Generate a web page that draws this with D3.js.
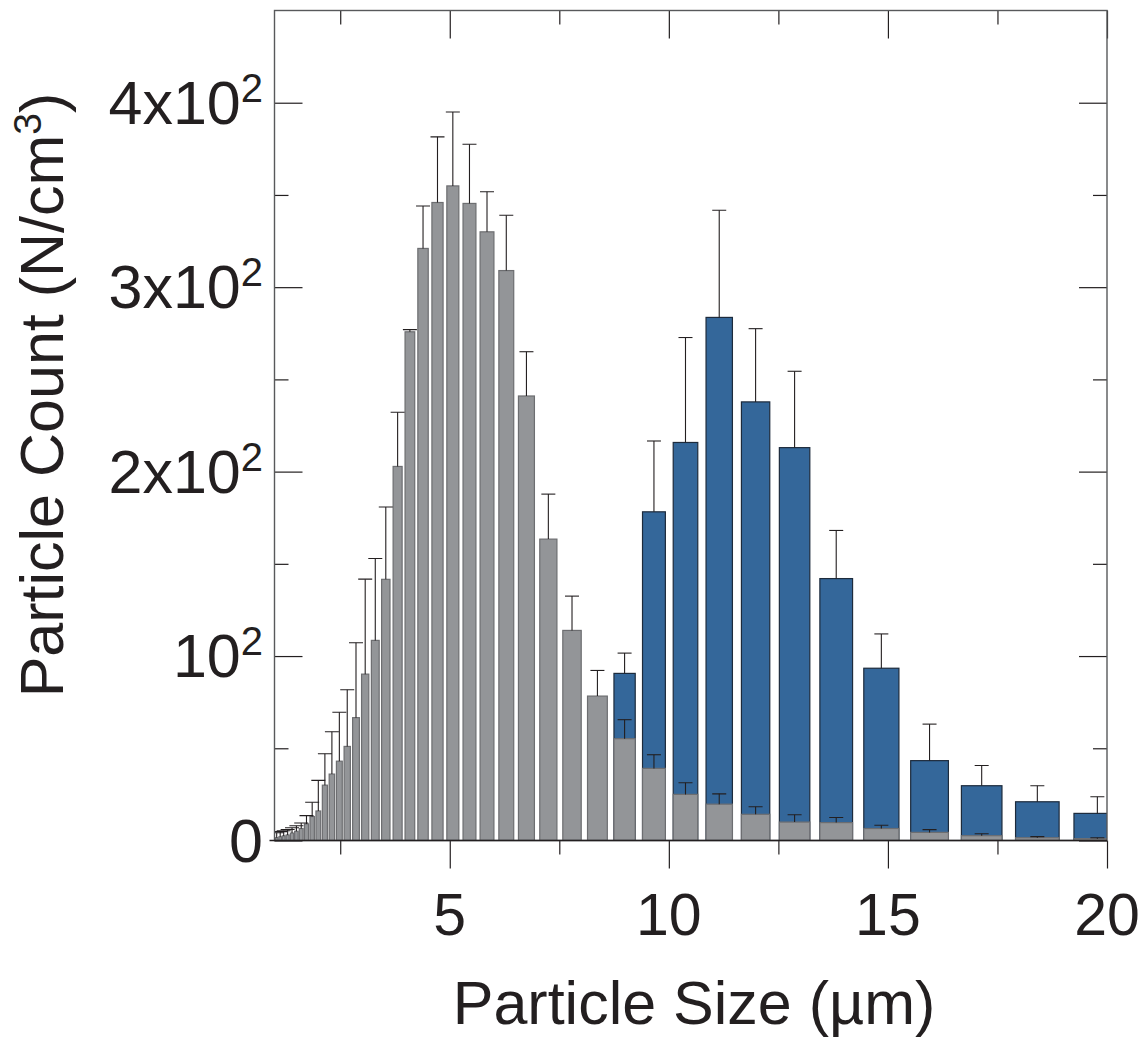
<!DOCTYPE html>
<html lang="en">
<head>
<meta charset="UTF-8">
<title>Particle Size Distribution</title>
<script src="https://d3js.org/d3.v7.min.js"></script>
<style>
  html, body { margin: 0; background: #fff; }
  svg { display: block; font-family: "Liberation Sans", Arial, Helvetica, sans-serif; }
</style>
</head>
<body>
<svg id="chart" width="1145" height="1038"></svg>
<script>
// bin centres (µm), log spaced
const sizes = [1.05, 1.13, 1.21, 1.30, 1.40, 1.50, 1.61, 1.73, 1.86, 2.00,
               2.15, 2.31, 2.48, 2.66, 2.86, 3.07, 3.30, 3.54, 3.81, 4.09,
               4.39, 4.72, 5.07, 5.45, 5.85, 6.29, 6.75, 7.25, 7.79, 8.37,
               8.99, 9.66, 10.38, 11.15, 11.98, 12.87, 13.82, 14.85, 15.95, 17.14,
               18.41, 19.78];

// grey series (N/cm3) and upper error
const greyCount = [1.5, 2, 2.5, 3, 4, 5, 6.5, 9, 13, 16,
                   30, 36, 43, 51, 66.6, 90.2, 108.5, 141.6, 202.8, 275.8,
                   321, 345.9, 354.9, 345.4, 330, 309, 241, 163.4, 113.9, 78.3,
                   55.2, 39.1, 25.0, 19.7, 14.2, 10.0, 9.7, 6.5, 4.4, 2.6,
                   1.5, 1.0];
const greyErr = [2.7, 2.8, 2.8, 3, 2.9, 3, 3, 4.5, 7.7, 16.6,
                 17, 23, 26.5, 30.7, 40.6, 51.5, 44.4, 39.2, 29.4, 1.2,
                 23, 35.6, 40.1, 32.1, 21.7, 30, 24, 24.4, 18.6, 13.9,
                 10.3, 7.4, 6.3, 5.6, 4.1, 4, 2.8, 1.8, 1.5, 1.1,
                 0.6, 0.5];

// blue series
const blueSizes = [8.99, 9.66, 10.38, 11.15, 11.98, 12.87, 13.82, 14.85, 15.95, 17.14, 18.41, 19.78];
const blueCount = [90.6, 178.2, 215.8, 283.6, 237.8, 213.0, 142.0, 93.4, 43.3, 29.7, 21.0, 14.7];
const blueErr = [11, 38.4, 56.9, 58.1, 39.7, 41.4, 26.1, 18.6, 19.8, 11, 8.7, 9];

const xMajor = [5, 10, 15, 20];
const xMinor = [2.5, 7.5, 12.5, 17.5];
const yMajor = [0, 100, 200, 300, 400];
const yMinor = [50, 150, 250, 350];
const yTickBase = ["0", "10", "2x10", "3x10", "4x10"];
const yTickExp = ["", "2", "2", "2", "2"];

const plot = {left: 274.5, right: 1107, top: 10.5, bottom: 840.5};
const ink = "#231f20";

const svg = d3.select("#chart");

const x = d3.scaleLinear().domain([1, 20]).range([plot.left, plot.right]);
const y = d3.scaleLinear().domain([0, 450]).range([plot.bottom, plot.top]);

svg.append("defs").append("clipPath").attr("id", "plot-clip")
  .append("rect")
  .attr("x", plot.left).attr("y", plot.top)
  .attr("width", plot.right - plot.left).attr("height", plot.bottom - plot.top);

const half = 0.027;  // half bar width as fraction of bin centre
const capW = 7;

function drawSeries(g, xs, counts, errs, fill, stroke) {
  const data = xs.map((s, i) => ({s, v: counts[i], e: errs[i]}));
  g.selectAll("rect")
    .data(data)
    .join("rect")
    .attr("x", d => x(d.s * (1 - half)))
    .attr("width", d => x(d.s * (1 + half)) - x(d.s * (1 - half)))
    .attr("y", d => y(d.v))
    .attr("height", d => y(0) - y(d.v))
    .attr("fill", fill)
    .attr("stroke", stroke)
    .attr("stroke-width", 1.2);

  g.selectAll("line.err")
    .data(data)
    .join("line")
    .attr("class", "err")
    .attr("x1", d => x(d.s)).attr("x2", d => x(d.s))
    .attr("y1", d => y(d.v)).attr("y2", d => y(d.v + d.e))
    .attr("stroke", ink).attr("stroke-width", 1.1);

  g.selectAll("line.cap")
    .data(data)
    .join("line")
    .attr("class", "cap")
    .attr("x1", d => x(d.s) - capW).attr("x2", d => x(d.s) + capW)
    .attr("y1", d => y(d.v + d.e)).attr("y2", d => y(d.v + d.e))
    .attr("stroke", ink).attr("stroke-width", 1.1);
}

const bars = svg.append("g").attr("clip-path", "url(#plot-clip)");
drawSeries(bars.append("g"), blueSizes, blueCount, blueErr, "#34679a", "#1d2b3c");
drawSeries(bars.append("g"), sizes, greyCount, greyErr, "#939598", "#6d6e71");

// axes: ticks only, frame drawn separately
function tickAxis(axisFn, scale, values, size, tx, ty) {
  const g = svg.append("g")
    .attr("transform", `translate(${tx},${ty})`)
    .call(axisFn(scale).tickValues(values).tickSize(size).tickFormat(""));
  g.select(".domain").remove();
  g.selectAll(".tick line").attr("stroke", ink).attr("stroke-width", 1.2);
  return g;
}

tickAxis(d3.axisBottom, x, xMajor, 28, 0, plot.bottom);
tickAxis(d3.axisBottom, x, xMinor, 14, 0, plot.bottom);
tickAxis(d3.axisBottom, x, xMajor, 28, 0, plot.top);
tickAxis(d3.axisBottom, x, xMinor, 14, 0, plot.top);
tickAxis(d3.axisRight, y, yMajor, 28, plot.left, 0);
tickAxis(d3.axisRight, y, yMinor, 14, plot.left, 0);
tickAxis(d3.axisLeft, y, yMajor, 28, plot.right, 0);
tickAxis(d3.axisLeft, y, yMinor, 14, plot.right, 0);

svg.append("rect")
  .attr("x", plot.left).attr("y", plot.top)
  .attr("width", plot.right - plot.left).attr("height", plot.bottom - plot.top)
  .attr("fill", "none").attr("stroke", "#58595b").attr("stroke-width", 1.4);

svg.append("line")
  .attr("x1", plot.left - 5).attr("x2", plot.right)
  .attr("y1", plot.bottom).attr("y2", plot.bottom)
  .attr("stroke", ink).attr("stroke-width", 1.4);

// x tick labels
svg.append("g").selectAll("text")
  .data(xMajor)
  .join("text")
  .attr("x", d => x(d))
  .attr("y", 935)
  .attr("text-anchor", "middle")
  .attr("font-size", 59)
  .attr("fill", ink)
  .text(d => d);

// y tick labels with superscripts
const yl = svg.append("g").selectAll("text")
  .data(yMajor)
  .join("text")
  .attr("x", 263)
  .attr("y", d => y(d) + 21)
  .attr("text-anchor", "end")
  .attr("font-size", 61)
  .attr("fill", ink);
yl.append("tspan").text((d, i) => yTickBase[i]);
yl.append("tspan")
  .attr("font-size", 40)
  .attr("dy", -22)
  .text((d, i) => yTickExp[i]);

// axis titles
svg.append("text")
  .attr("x", 694).attr("y", 1024)
  .attr("text-anchor", "middle")
  .attr("font-size", 61)
  .attr("fill", ink)
  .text("Particle Size (µm)");

const yt = svg.append("text")
  .attr("transform", "translate(63,395) rotate(-90)")
  .attr("text-anchor", "middle")
  .attr("font-size", 61)
  .attr("fill", ink);
yt.append("tspan").text("Particle Count (N/cm");
yt.append("tspan").attr("font-size", 39).attr("dy", -22).text("3");
yt.append("tspan").attr("dy", 22).text(")");
</script>
</body>
</html>
